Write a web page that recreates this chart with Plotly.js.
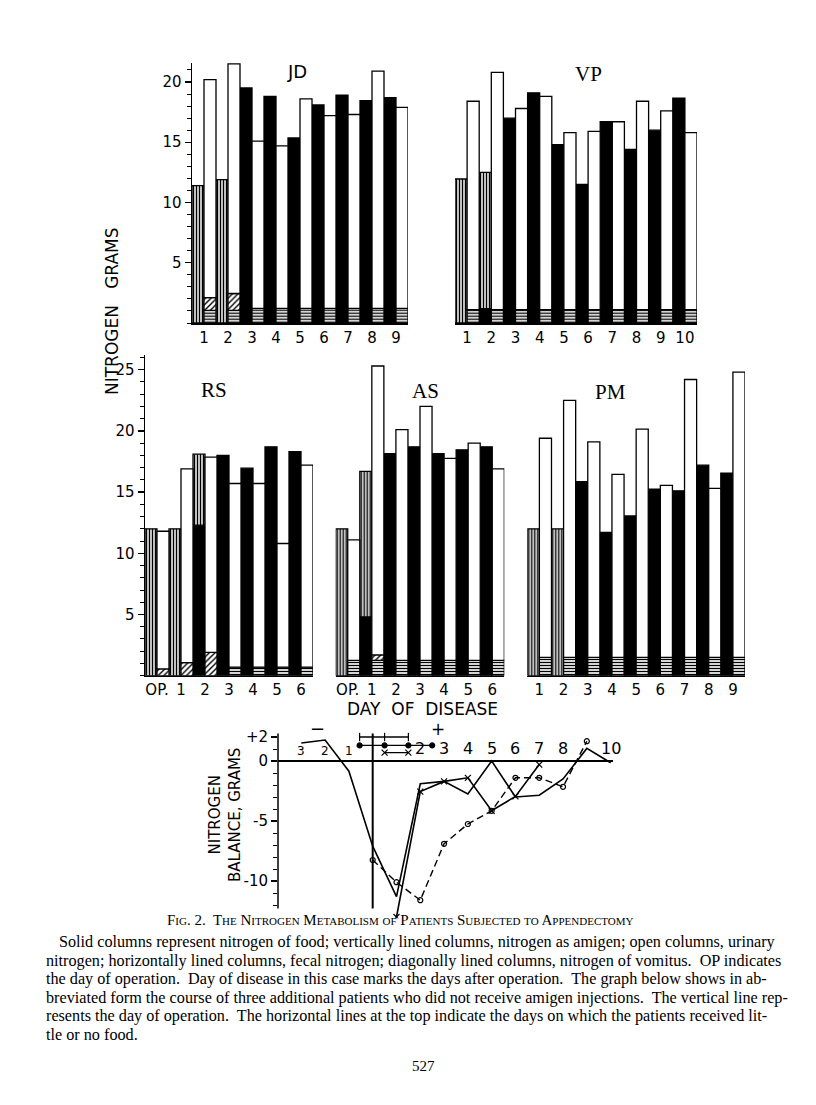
<!DOCTYPE html>
<html>
<head>
<meta charset="utf-8">
<script src="https://cdn.plot.ly/plotly-3.0.1.min.js"></script>
<style>html,body{margin:0;padding:0;background:#fff}</style>
</head>
<body>
<div id="fig" style="width:816px;height:1105px"></div>
<script>
// Nitrogen metabolism after appendectomy - bar panels + balance chart

// ---- JD ----
const jdDays   = [1, 2, 3, 4, 5, 6, 7, 8, 9];
const jdLabels = ['1', '2', '3', '4', '5', '6', '7', '8', '9'];
const jdFood   = [0, 0, 19.5, 18.8, 15.35, 18.1, 18.9, 18.45, 18.7];
const jdAmigen = [11.4, 11.9, 0, 0, 0, 0, 0, 0, 0];
const jdFecal  = [1.05, 1.05, 1.22, 1.22, 1.22, 1.22, 1.22, 1.22, 1.22];
const jdVomit  = [1.05, 1.4, 0, 0, 0, 0, 0, 0, 0];
const jdOutput = [20.2, 21.5, 15.1, 14.7, 18.6, 17.2, 17.3, 20.9, 17.9];

// ---- VP ----
const vpDays   = [1, 2, 3, 4, 5, 6, 7, 8, 9, 10];
const vpLabels = ['1', '2', '3', '4', '5', '6', '7', '8', '9', '10'];
const vpFood   = [0, 1.2, 17.0, 19.1, 14.8, 11.5, 16.7, 14.4, 16.0, 18.65];
const vpAmigen = [11.95, 11.3, 0, 0, 0, 0, 0, 0, 0, 0];
const vpFecal  = [1.1, 1.1, 1.1, 1.1, 1.1, 1.1, 1.1, 1.1, 1.1, 1.1];
const vpVomit  = [0, 0, 0, 0, 0, 0, 0, 0, 0, 0];
const vpOutput = [18.4, 20.8, 17.8, 18.8, 15.8, 15.9, 16.7, 18.4, 17.6, 15.8];

// ---- RS ----
const rsDays   = [0, 1, 2, 3, 4, 5, 6];
const rsLabels = ['OP.', '1', '2', '3', '4', '5', '6'];
const rsFood   = [0, 0, 12.3, 18.0, 16.95, 18.7, 18.3];
const rsAmigen = [12.0, 12.0, 5.8, 0, 0, 0, 0];
const rsFecal  = [0, 0, 0, 0.7, 0.7, 0.7, 0.7];
const rsVomit  = [0.55, 1.07, 1.9, 0, 0, 0, 0];
const rsOutput = [11.8, 16.9, 17.85, 15.7, 15.7, 10.8, 17.2];

// ---- AS ----
const asDays   = [0, 1, 2, 3, 4, 5, 6];
const asLabels = ['OP.', '1', '2', '3', '4', '5', '6'];
const asFood   = [0, 4.8, 18.15, 18.7, 18.15, 18.45, 18.7];
const asAmigen = [12.0, 11.9, 0, 0, 0, 0, 0];
const asFecal  = [1.25, 1.25, 1.25, 1.25, 1.25, 1.25, 1.25];
const asVomit  = [0, 0.45, 0, 0, 0, 0, 0];
const asOutput = [11.1, 25.3, 20.1, 22.0, 17.75, 19.0, 16.9];

// ---- PM ----
const pmDays   = [1, 2, 3, 4, 5, 6, 7, 8, 9];
const pmLabels = ['1', '2', '3', '4', '5', '6', '7', '8', '9'];
const pmFood   = [0, 0, 15.85, 11.7, 13.05, 15.25, 15.1, 17.2, 16.55];
const pmAmigen = [12.0, 12.0, 0, 0, 0, 0, 0, 0, 0];
const pmFecal  = [1.5, 1.5, 1.5, 1.5, 1.5, 1.5, 1.5, 1.5, 1.5];
const pmVomit  = [0, 0, 0, 0, 0, 0, 0, 0, 0];
const pmOutput = [19.4, 22.5, 19.1, 16.45, 20.15, 15.55, 24.2, 15.3, 24.8];

// ---- nitrogen balance, three patients without amigen ----
const balDaysA = [-3, -2, -1, 0, 1, 2, 3, 4, 5, 6, 7, 8, 9, 10];
const balA     = [1.5, 1.75, -0.85, -7.1, -11.3, -1.9, -1.7, -2.75, 0, -3.0, -2.85, -1.5, 1.05, -0.15];
const balDaysB = [1, 2, 3, 4, 5, 6, 7];
const balB     = [-13.0, -2.55, -1.7, -1.4, -4.15, -2.95, -0.3];
const balDaysC = [0, 1, 2, 3, 4, 5, 6, 7, 8, 9];
const balC     = [-8.25, -10.1, -11.6, -6.9, -5.25, -4.15, -1.4, -1.4, -2.15, 1.65];
// little or no food (bars at top)
const fastDaysA = [-0.55, 0.5, 1.5];
const fastDaysB = [-0.55, 0.5, 1.5, 2.5];
const fastDaysC = [0.5, 1.5];
const fastLevel = [2.0, 1.3, 0.7];
const balTickDays = [-3, -2, -1, 2, 3, 4, 5, 6, 7, 8, 10];
const balTickText = ['3', '2', '1', '2', '3', '4', '5', '6', '7', '8', '10'];

const W = 816, H = 1105;
const fx = p => p / W;
const fy = p => 1 - p / H;
const nz = v => (v ? v : null);

const traces = [];

function addPanel(days, food, amigen, fecal, vomit, output, xa, ya) {
  const outline = { color: '#000', width: 1.3 };
  const common = { type: 'bar', x: days, width: 0.5, xaxis: xa, yaxis: ya, hoverinfo: 'skip' };
  // intake column (left half of the day)
  traces.push(Object.assign({}, common, {
    offset: -0.5, y: food.map(nz), base: 0,
    marker: { color: '#000', line: outline }
  }));
  traces.push(Object.assign({}, common, {
    offset: -0.5, y: amigen.map(nz), base: food,
    marker: { color: '#fff', line: outline,
      pattern: { shape: '|', size: 3, solidity: 0.5, fgcolor: '#000', bgcolor: '#fff' } }
  }));
  // output column (right half)
  traces.push(Object.assign({}, common, {
    offset: 0, y: fecal.map(nz), base: 0,
    marker: { color: '#fff', line: outline,
      pattern: { shape: '-', size: 3, solidity: 0.45, fgcolor: '#000', bgcolor: '#fff' } }
  }));
  traces.push(Object.assign({}, common, {
    offset: 0, y: vomit.map(nz), base: fecal,
    marker: { color: '#fff', line: outline,
      pattern: { shape: '/', size: 4, solidity: 0.35, fgcolor: '#000', bgcolor: '#fff' } }
  }));
  const urine = output.map((t, i) => t - fecal[i] - vomit[i]);
  const urineBase = fecal.map((f, i) => f + vomit[i]);
  traces.push(Object.assign({}, common, {
    offset: 0, y: urine, base: urineBase,
    marker: { color: '#fff', line: outline }
  }));
}

addPanel(jdDays, jdFood, jdAmigen, jdFecal, jdVomit, jdOutput, 'x', 'y');
addPanel(vpDays, vpFood, vpAmigen, vpFecal, vpVomit, vpOutput, 'x2', 'y2');
addPanel(rsDays, rsFood, rsAmigen, rsFecal, rsVomit, rsOutput, 'x3', 'y3');
addPanel(asDays, asFood, asAmigen, asFecal, asVomit, asOutput, 'x4', 'y4');
addPanel(pmDays, pmFood, pmAmigen, pmFecal, pmVomit, pmOutput, 'x5', 'y5');

// balance lines
traces.push({ x: balDaysA, y: balA, mode: 'lines', xaxis: 'x6', yaxis: 'y6',
  line: { color: '#000', width: 1.6 }, hoverinfo: 'skip' });
traces.push({ x: balDaysB, y: balB, mode: 'lines+markers', xaxis: 'x6', yaxis: 'y6',
  line: { color: '#000', width: 1.6 },
  marker: { symbol: 'x-thin', size: 6, line: { color: '#000', width: 1.2 } }, hoverinfo: 'skip' });
traces.push({ x: balDaysC, y: balC, mode: 'lines+markers', xaxis: 'x6', yaxis: 'y6',
  line: { color: '#000', width: 1.4, dash: '7px,4px' },
  marker: { symbol: 'circle-open', size: 5, color: '#000', line: { width: 1.2 } }, hoverinfo: 'skip' });
// fasting bars
[[fastDaysA, 'line-ns'], [fastDaysB, 'circle'], [fastDaysC, 'x-thin']].forEach((f, i) => {
  traces.push({ x: f[0], y: f[0].map(() => fastLevel[i]), mode: 'lines+markers', xaxis: 'x6', yaxis: 'y6',
    line: { color: '#000', width: 1.4 },
    marker: { symbol: f[1], size: f[1] === 'circle' ? 5 : 6, color: '#000', line: { color: '#000', width: 1.2 } },
    hoverinfo: 'skip' });
});

const tickFont = { family: 'DejaVu Sans', size: 15, color: '#000' };

function barX(lo, hi, days, labels, range, anchor) {
  return { domain: [fx(lo), fx(hi)], range: range, anchor: anchor, tickvals: days, ticktext: labels,
    showline: true, linecolor: '#000', linewidth: 1.5, ticks: '', showgrid: false,
    zeroline: false, tickfont: tickFont, fixedrange: true };
}
function barY(top, bottom, range, anchor, vals) {
  const ax = { domain: [fy(bottom), fy(top)], range: range, anchor: anchor, showgrid: false,
    zeroline: false, fixedrange: true };
  if (vals) {
    Object.assign(ax, { showline: true, linecolor: '#000', linewidth: 1.5, ticks: 'outside',
      ticklen: 6, tickwidth: 1.3, tickcolor: '#000', tickvals: vals, tickfont: tickFont,
      minor: { dtick: 1, ticklen: 4, tickwidth: 1, tickcolor: '#000', ticks: 'outside' } });
  } else {
    Object.assign(ax, { showline: false, showticklabels: false, ticks: '' });
  }
  return ax;
}

const balMinor = [];
for (let v = -12; v <= 2; v++) balMinor.push(v);

const layout = {
  width: W, height: H,
  margin: { l: 0, r: 0, t: 0, b: 0 },
  paper_bgcolor: '#fff', plot_bgcolor: 'rgba(0,0,0,0)',
  showlegend: false, barmode: 'overlay',
  xaxis:  barX(192, 408, jdDays, jdLabels, [0.5, 9.5], 'y'),
  yaxis:  barY(62.7, 323, [0, 21.6], 'x', [5, 10, 15, 20]),
  xaxis2: barX(455, 697, vpDays, vpLabels, [0.5, 10.5], 'y2'),
  yaxis2: barY(62.7, 323, [0, 21.6], 'x2'),
  xaxis3: barX(145, 313, rsDays, rsLabels, [-0.5, 6.5], 'y3'),
  yaxis3: barY(355, 675.7, [0, 26.2], 'x3', [5, 10, 15, 20, 25]),
  xaxis4: barX(335.7, 504.3, asDays, asLabels, [-0.5, 6.5], 'y4'),
  yaxis4: barY(355, 675.7, [0, 26.2], 'x4'),
  xaxis5: barX(527.3, 745, pmDays, pmLabels, [0.5, 9.5], 'y5'),
  yaxis5: barY(355, 675.7, [0, 26.2], 'x5'),
  xaxis6: { domain: [fx(278), fx(613)], range: [-3.98, 10.1], anchor: 'y6', visible: false, fixedrange: true },
  yaxis6: { domain: [fy(918.2), fy(732.2)], range: [-13.1, 2.4], anchor: 'x6', showgrid: false,
    zeroline: true, zerolinecolor: '#000', zerolinewidth: 1.8, showline: false,
    ticks: 'outside', ticklen: 6, tickwidth: 1.3, tickcolor: '#000',
    tickvals: [2, 0, -5, -10], ticktext: ['+2', '0', '-5', '-10'], tickfont: tickFont,
    minor: { tickmode: 'array', tickvals: balMinor, ticklen: 4, tickwidth: 1, tickcolor: '#000', ticks: 'outside' },
    fixedrange: true },
  shapes: [
    { type: 'line', xref: 'x6 domain', yref: 'y6', x0: 0, x1: 0, y0: -12.3, y1: 2.3,
      line: { color: '#000', width: 1.5 } },
    { type: 'line', xref: 'x6', yref: 'y6', x0: 0, x1: 0, y0: -12.3, y1: 2.3,
      line: { color: '#000', width: 2 } }
  ],
  annotations: []
};

const ann = layout.annotations;
function label(px, py, text, font, extra) {
  ann.push(Object.assign({ xref: 'paper', yref: 'paper', x: fx(px), y: fy(py), text: text,
    showarrow: false, xanchor: 'center', yanchor: 'middle', font: font }, extra || {}));
}
const serifTitle = { family: 'Liberation Serif', size: 21, color: '#000' };
label(297, 72, 'JD', { family: 'DejaVu Sans', size: 18, color: '#000' });
label(588, 74, 'VP', serifTitle);
label(214, 390, 'RS', serifTitle);
label(425, 391, 'AS', serifTitle);
label(610, 392, 'PM', serifTitle);

label(112, 311, 'NITROGEN\u00a0\u00a0\u00a0GRAMS', { family: 'DejaVu Sans', size: 17, color: '#000' }, { textangle: -90 });
label(422, 709, 'DAY\u00a0\u00a0OF\u00a0\u00a0DISEASE', { family: 'DejaVu Sans', size: 17, color: '#000' });

// balance chart labels
balTickDays.forEach((d, i) => {
  ann.push({ xref: 'x6', yref: 'y6', x: d, y: 0, yanchor: 'bottom', xanchor: 'center', yshift: 1, showarrow: false,
    text: balTickText[i], font: { family: 'DejaVu Sans', size: d < 0 ? 12 : 16, color: '#000' } });
});
label(317, 728, '\u2212', { family: 'DejaVu Sans', size: 18, color: '#000' });
label(438, 729, '+', { family: 'DejaVu Sans', size: 17, color: '#000' });
label(225, 815, 'NITROGEN<br>BALANCE, GRAMS', { family: 'DejaVu Sans', size: 15, color: '#000' }, { textangle: -90 });

// caption
label(400, 920, 'Fig. 2.  The Nitrogen Metabolism of Patients Subjected to Appendectomy',
  { family: 'Liberation Serif', size: 15, color: '#000', variant: 'small-caps' });
const capLines = [
  'Solid columns represent nitrogen of food; vertically lined columns, nitrogen as amigen; open columns, urinary',
  'nitrogen; horizontally lined columns, fecal nitrogen; diagonally lined columns, nitrogen of vomitus.  OP indicates',
  'the day of operation.  Day of disease in this case marks the days after operation.  The graph below shows in ab-',
  'breviated form the course of three additional patients who did not receive amigen injections.  The vertical line rep-',
  'resents the day of operation.  The horizontal lines at the top indicate the days on which the patients received lit-',
  'tle or no food.'
];
const capY = [942, 961, 979, 998, 1016, 1035];
const capFont = { family: 'Liberation Serif', size: 16.2, color: '#000' };
capLines.forEach((t, i) => {
  label(i === 0 ? 57 : 44, capY[i], t.replace(/  /g, '\u00a0 '), capFont, { xanchor: 'left' });
});
label(423, 1066, '527', { family: 'Liberation Serif', size: 15, color: '#000' });

Plotly.newPlot('fig', traces, layout, { displayModeBar: false, staticPlot: true });
</script>
</body>
</html>
